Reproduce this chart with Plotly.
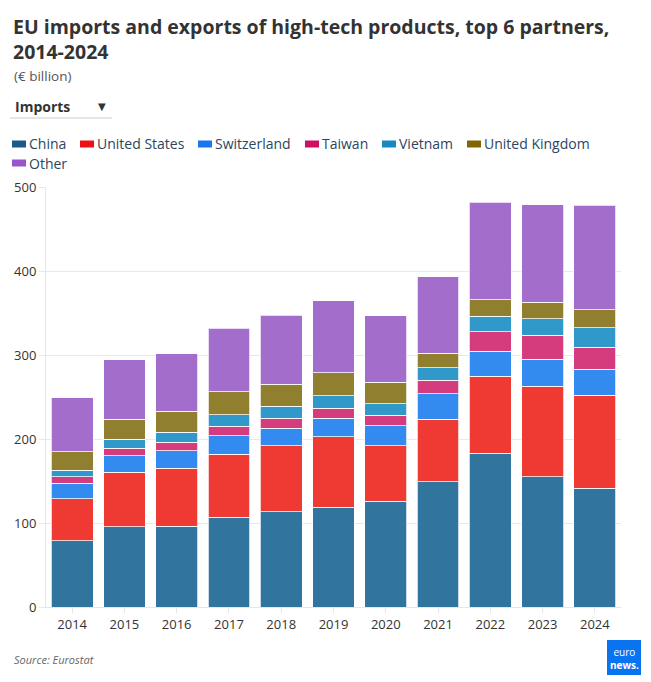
import plotly.graph_objects as go

years = ["2014", "2015", "2016", "2017", "2018", "2019", "2020", "2021", "2022", "2023", "2024"]
china = [78.6, 95.6, 96.0, 107.1, 113.5, 118.7, 125.8, 149.2, 182.9, 155.2, 141.3]
united_states = [50.0, 64.7, 69.1, 74.6, 78.5, 83.7, 66.3, 74.6, 91.7, 107.9, 110.7]
switzerland = [18.6, 19.9, 21.0, 22.3, 21.0, 22.2, 23.8, 29.8, 29.8, 31.7, 31.0]
taiwan = [8.0, 8.7, 9.9, 11.1, 12.0, 11.9, 12.3, 16.6, 23.4, 28.6, 26.1]
vietnam = [7.9, 10.7, 12.3, 13.9, 13.9, 14.7, 13.9, 14.7, 18.2, 19.5, 23.4]
united_kingdom = [21.8, 23.8, 25.0, 27.3, 26.1, 27.4, 25.4, 17.1, 19.9, 20.2, 21.1]
other = [64.3, 71.0, 68.3, 75.4, 82.2, 85.7, 79.3, 90.9, 116.2, 115.9, 124.6]

series_names = ["China", "United States", "Switzerland", "Taiwan", "Vietnam", "United Kingdom", "Other"]
series_values = [china, united_states, switzerland, taiwan, vietnam, united_kingdom, other]
bar_colors = ["#31759e", "#ef3a34", "#338bf0", "#d53c7e", "#3099c9", "#917f30", "#a36dcb"]
legend_colors = ["#1a5a8a", "#ee1111", "#1a75ee", "#cc1166", "#1a88c0", "#806600", "#9955cc"]

W, H = 651, 682
L, R, T, B = 46, 30, 187, 75
PW, PH = W - L - R, H - T - B

def px(x):
    return (x - L) / PW

def py(y):
    return (H - B - y) / PH

fig = go.Figure()
for name, vals, col in zip(series_names, series_values, bar_colors):
    fig.add_trace(go.Bar(
        x=years, y=vals, name=name, marker_color=col,
        marker_line=dict(color="rgba(255,255,255,0.75)", width=1),
        showlegend=False,
    ))

annotations = []
shapes = []

annotations.append(dict(
    x=px(11), y=py(11), xref="paper", yref="paper", xanchor="left", yanchor="top",
    align="left", showarrow=False,
    text="<b>EU imports and exports of high-tech products, top 6 partners,<br>2014-2024</b>",
    font=dict(family="Open Sans", size=19.5, color="#333333"),
))
annotations.append(dict(
    x=px(12), y=py(76), xref="paper", yref="paper", xanchor="left", yanchor="middle",
    showarrow=False, text="(€ billion)",
    font=dict(family="Open Sans", size=13.5, color="#555555"),
))
annotations.append(dict(
    x=px(13), y=py(106), xref="paper", yref="paper", xanchor="left", yanchor="middle",
    showarrow=False, text="<b>Imports</b>",
    font=dict(family="Open Sans", size=14, color="#333333"),
))
annotations.append(dict(
    x=px(102), y=py(106), xref="paper", yref="paper", xanchor="center", yanchor="middle",
    showarrow=False, text="▼",
    font=dict(family="DejaVu Sans", size=10, color="#333333"),
))
shapes.append(dict(type="line", xref="paper", yref="paper",
                   x0=px(10), x1=px(112), y0=py(118), y1=py(118),
                   line=dict(color="#cccccc", width=1)))

legend_pos = [(12, 144), (80, 144), (198, 144), (305, 144), (382, 144), (467, 144), (12, 163)]
for name, col, (lx, ly) in zip(series_names, legend_colors, legend_pos):
    shapes.append(dict(type="rect", xref="paper", yref="paper",
                       x0=px(lx), x1=px(lx + 14), y0=py(ly - 3.5), y1=py(ly + 3.5),
                       fillcolor=col, line=dict(width=0)))
    annotations.append(dict(
        x=px(lx + 15), y=py(ly), xref="paper", yref="paper", xanchor="left", yanchor="middle",
        showarrow=False, text=name,
        font=dict(family="Open Sans", size=14, color="#2b4660"),
    ))

annotations.append(dict(
    x=px(12), y=py(659), xref="paper", yref="paper", xanchor="left", yanchor="middle",
    showarrow=False, text="<i>Source: Eurostat</i>",
    font=dict(family="Open Sans", size=11, color="#666666"),
))
shapes.append(dict(type="rect", xref="paper", yref="paper",
                   x0=px(607), x1=px(641), y0=py(640), y1=py(675),
                   fillcolor="#0a73f0", line=dict(width=0)))
annotations.append(dict(
    x=px(624), y=py(658), xref="paper", yref="paper", xanchor="center", yanchor="middle",
    showarrow=False, text="euro<br><b>news.</b>",
    font=dict(family="Open Sans", size=10, color="#ffffff"),
))

fig.update_layout(
    width=W, height=H,
    margin=dict(l=L, r=R, t=T, b=B, pad=0),
    barmode="stack", bargap=0.2,
    plot_bgcolor="#ffffff", paper_bgcolor="#ffffff",
    font=dict(family="Open Sans", size=13, color="#333333"),
    annotations=annotations, shapes=shapes,
    xaxis=dict(type="category", showgrid=False, ticks="outside", ticklen=5,
               tickcolor="#e6e6e6", showline=True, linecolor="#e6e6e6",
               tickfont=dict(size=13, color="#333333")),
    yaxis=dict(range=[0, 500], dtick=100, showgrid=True, gridcolor="#e8e8e8",
               ticks="outside", ticklen=6, tickcolor="#e8e8e8", zeroline=False,
               showline=True, linecolor="#e8e8e8",
               tickfont=dict(size=13, color="#333333")),
)

fig.write_html("out.html")
